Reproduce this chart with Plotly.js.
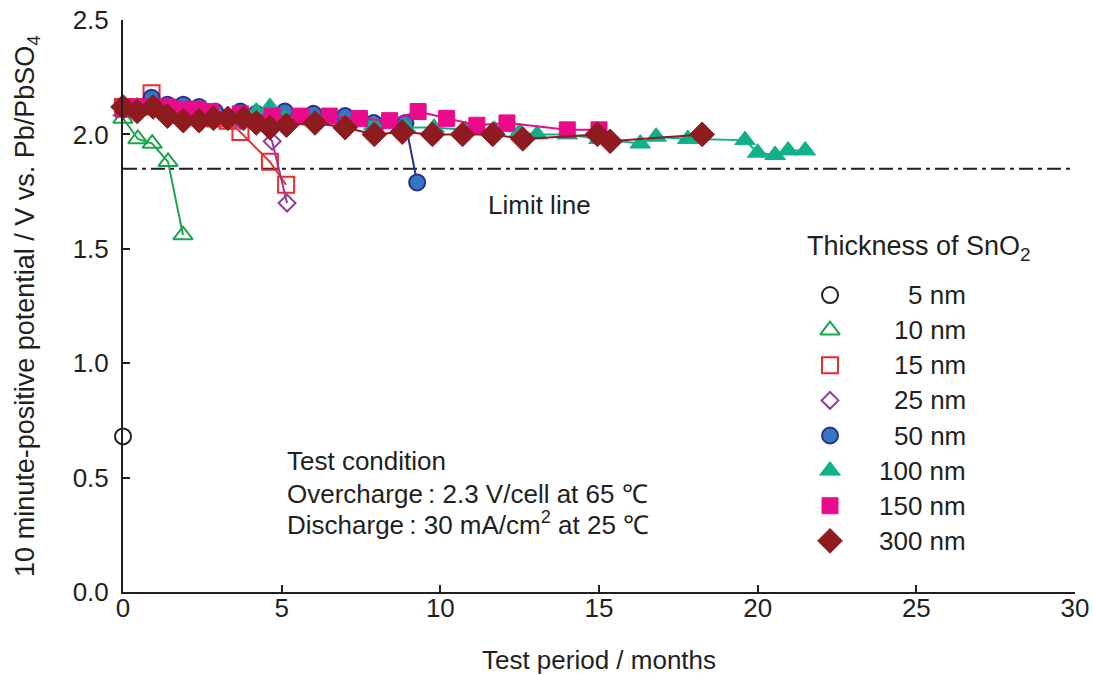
<!DOCTYPE html>
<html><head><meta charset="utf-8">
<script src="https://cdn.plot.ly/plotly-3.0.1.min.js"></script>
<style>html,body{margin:0;padding:0;background:#fff;}#chart{width:1093px;height:675px;}</style>
</head><body><div id="chart"></div>
<script>
// ---- data (months, V) ----
const names = ["5 nm","10 nm","15 nm","25 nm","50 nm","100 nm","150 nm","300 nm"];
const x5 = [0];
const y5 = [0.68];
const x10 = [0, 0.47, 0.92, 1.42, 1.89];
const y10 = [2.07, 1.98, 1.96, 1.88, 1.56];
const x15 = [0, 0.45, 0.9, 1.4, 1.9, 2.4, 2.9, 3.3, 3.7, 4.63, 5.14];
const y15 = [2.12, 2.12, 2.18, 2.1, 2.09, 2.08, 2.07, 2.06, 2.01, 1.88, 1.78];
const x25 = [0, 0.45, 0.9, 1.4, 1.9, 2.4, 2.9, 3.7, 4.2, 4.7, 5.17];
const y25 = [2.12, 2.12, 2.13, 2.12, 2.1, 2.09, 2.08, 2.06, 2.05, 1.97, 1.70];
const x50 = [0, 0.9, 1.4, 1.9, 2.4, 2.9, 3.7, 4.2, 5.1, 6.0, 7.0, 7.9, 8.9, 9.27];
const y50 = [2.12, 2.16, 2.13, 2.13, 2.12, 2.1, 2.1, 2.09, 2.1, 2.09, 2.08, 2.05, 2.05, 1.79];
const x100 = [0, 0.45, 0.9, 1.4, 1.9, 2.4, 2.9, 3.7, 4.2, 4.63, 5.1, 6.0, 7.0, 7.9, 8.9, 9.8, 10.8, 11.7, 12.5, 13.05, 14.0, 15.0, 16.3, 16.8, 17.8, 19.6, 20.0, 20.55, 20.96, 21.5];
const y100 = [2.1, 2.12, 2.13, 2.12, 2.1, 2.1, 2.09, 2.08, 2.1, 2.12, 2.07, 2.06, 2.05, 2.04, 2.03, 2.03, 2.02, 2.02, 2.01, 2.0, 2.0, 1.98, 1.96, 1.99, 1.98, 1.975, 1.92, 1.91, 1.93, 1.93];
const x150 = [0, 0.45, 0.9, 1.4, 1.85, 2.35, 2.75, 3.7, 4.7, 5.6, 6.5, 7.45, 8.4, 9.3, 10.2, 11.15, 12.1, 14.0, 15.0];
const y150 = [2.11, 2.12, 2.12, 2.12, 2.11, 2.11, 2.1, 2.09, 2.08, 2.08, 2.08, 2.07, 2.06, 2.1, 2.07, 2.04, 2.05, 2.02, 2.02];
const x300 = [0, 0.45, 0.95, 1.4, 1.9, 2.4, 2.85, 3.3, 3.8, 4.2, 4.63, 5.15, 6.05, 7.0, 7.92, 8.8, 9.75, 10.7, 11.65, 12.6, 14.95, 15.35, 18.25];
const y300 = [2.12, 2.1, 2.12, 2.08, 2.06, 2.06, 2.07, 2.07, 2.07, 2.05, 2.03, 2.04, 2.05, 2.03, 2.0, 2.01, 2.0, 2.0, 2.0, 1.98, 2.0, 1.97, 2.0];
const limitValue = 1.85;
const xRange = [0, 30];
const yRange = [0, 2.5];
const xTicks = [0, 5, 10, 15, 20, 25, 30];
const yTicks = [0, 0.5, 1.0, 1.5, 2.0, 2.5];
const yTickLabels = ["0.0", "0.5", "1.0", "1.5", "2.0", "2.5"];

// ---- styles ----
const styles = [
  {sym:"circle-open", size:16, color:"#231f20", line:"#231f20", lw:2},
  {sym:"triangle-up-open", size:17, color:"#1ba64b", line:"#1ba64b", lw:2},
  {sym:"square-open", size:16, color:"#ee2b2b", line:"#ee2b2b", lw:2},
  {sym:"diamond-open", size:13, color:"#8e3c98", line:"#8e3c98", lw:2},
  {sym:"circle", size:16, color:"#3677c2", line:"#263090", lw:2},
  {sym:"triangle-up", size:18, color:"#10b08b", line:"#10b08b", lw:1},
  {sym:"square", size:16, color:"#ec0a8c", line:"#ec0a8c", lw:1},
  {sym:"diamond", size:19, color:"#8e1b20", line:"#8e1b20", lw:1}
];
const lineColors = ["#231f20","#1ba64b","#ee2b2b","#8e3c98","#263090","#10b08b","#ec0a8c","#8e1b20"];
const xs = [x5,x10,x15,x25,x50,x100,x150,x300];
const ys = [y5,y10,y15,y25,y50,y100,y150,y300];

const traces = [];
traces.push({x:xRange, y:[limitValue, limitValue], mode:"lines", showlegend:false, hoverinfo:"skip",
  line:{color:"#231f20", width:2, dash:"14px,5px,4px,5px"}});
for (let i=0;i<names.length;i++){
  const s = styles[i];
  traces.push({x:xs[i], y:ys[i], name:names[i], mode:"lines+markers", showlegend:false, cliponaxis:false,
    line:{color:lineColors[i], width:2},
    marker:{symbol:s.sym, size:s.size, color:s.color, line:{color:s.line, width:s.lw}}});
}
// custom legend: markers placed on rows via axis values
const legX = 22.28, legRow0 = 1.298, legStep = 0.1535, legLabelX = 26.62;
for (let i=0;i<names.length;i++){
  const s = styles[i];
  traces.push({x:[legX], y:[legRow0 - legStep*i], mode:"markers", showlegend:false, hoverinfo:"skip", cliponaxis:false,
    marker:{symbol:s.sym, size:s.size, color:s.color, line:{color:s.line, width:s.lw}}});
}
const font = "Liberation Sans, Arial, sans-serif";
const txtColor = "#231f20";
const fs = 26;
const annotations = [];
for (let i=0;i<names.length;i++){
  annotations.push({x:legLabelX, y:legRow0 - legStep*i, xref:"x", yref:"y", text:names[i], showarrow:false,
    xanchor:"right", yanchor:"middle", font:{family:font, size:fs, color:txtColor}});
}
annotations.push({x:21.5, y:1.503, xref:"x", yref:"y", text:"Thickness of SnO<sub>2</sub>", showarrow:false,
  xanchor:"left", yanchor:"middle", font:{family:font, size:27, color:txtColor}});
annotations.push({x:11.45, y:1.69, xref:"x", yref:"y", text:"Limit line", showarrow:false,
  xanchor:"left", yanchor:"middle", font:{family:font, size:fs, color:txtColor}});
const condLines = ["Test condition", "Overcharge\u2009: 2.3 V/cell at 65 \u2103", "Discharge\u2009: 30 mA/cm<sup>2</sup> at 25 \u2103"];
const condY = [0.573, 0.43, 0.30];
for (let i=0;i<condLines.length;i++){
  annotations.push({x:5.1, y:condY[i], xref:"x", yref:"y", text:condLines[i], showarrow:false,
    xanchor:"left", yanchor:"middle", font:{family:font, size:fs, color:txtColor}});
}

const layout = {
  width:1093, height:675,
  margin:{l:123, r:18, t:20, b:83},
  paper_bgcolor:"#fff", plot_bgcolor:"#fff",
  font:{family:font, size:fs, color:txtColor},
  showlegend:false,
  xaxis:{range:xRange, tickvals:xTicks, ticktext:xTicks.map(String), showgrid:false, zeroline:false,
    showline:true, linecolor:txtColor, linewidth:2, ticks:"inside", ticklen:7, tickwidth:2, tickcolor:txtColor,
    ticklabelstandoff:-8,
    tickfont:{family:font, size:fs, color:txtColor},
    title:{text:"Test period / months", standoff:30, font:{family:font, size:fs, color:txtColor}}},
  yaxis:{range:yRange, tickvals:yTicks, ticktext:yTickLabels, showgrid:false, zeroline:false,
    showline:true, linecolor:txtColor, linewidth:2, ticks:"inside", ticklen:7, tickwidth:2, tickcolor:txtColor,
    ticklabelstandoff:7,
    tickfont:{family:font, size:fs, color:txtColor},
    title:{text:"10 minute-positive potential / V vs. Pb/PbSO<sub>4</sub>", standoff:30, font:{family:font, size:27, color:txtColor}}},
  annotations:annotations
};
Plotly.newPlot("chart", traces, layout, {staticPlot:true, displayModeBar:false});
</script></body></html>
